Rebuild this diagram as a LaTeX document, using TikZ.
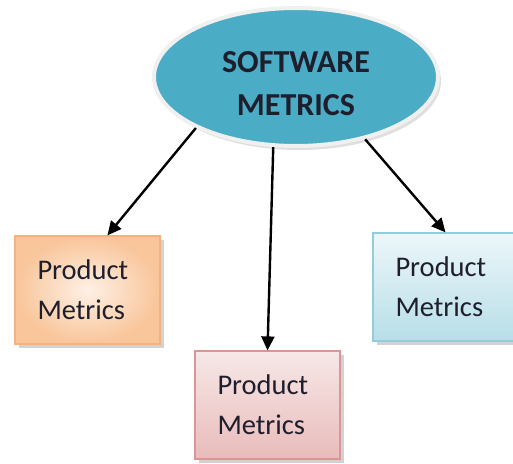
\documentclass[tikz,border=0pt]{standalone}
\usepackage{fontspec}
\setmainfont{Carlito}
\usetikzlibrary{shapes.geometric,shadows,arrows.meta}
\definecolor{teal}{HTML}{4BACC6}
\definecolor{orangeedge}{HTML}{F4B183}
\definecolor{orangefill}{HTML}{F9C59A}
\definecolor{pinkedge}{HTML}{D99694}
\definecolor{pinkfill}{HTML}{E8BCBB}
\definecolor{blueedge}{HTML}{93CDDD}
\definecolor{bluefill}{HTML}{B7DEE8}
\definecolor{inktext}{HTML}{1E1E2C}
\begin{document}
\begin{tikzpicture}[
        x=1pt, y=-1pt,
        metricbox/.style={rectangle, minimum width=145pt, minimum height=108pt,
          line width=1.2pt, align=left, text width=100pt, text=inktext,
          font=\fontsize{28.5}{40}\selectfont,
          drop shadow={shadow xshift=4pt, shadow yshift=-4pt, fill=black!35}},
        link/.style={line width=2.4pt, -{Triangle[length=14pt,width=13pt]}}
      ]
      \useasboundingbox (0,0) rectangle (513,463);
      \node[ellipse, minimum width=284pt, minimum height=138pt, inner sep=0pt,
        fill=teal, draw=white!88!gray, line width=4pt,
        font=\bfseries\fontsize{32}{43}\selectfont, text=inktext,
        drop shadow={shadow xshift=3pt, shadow yshift=-4pt, fill=black!25}]
        (software) at (296,77)
        {\raisebox{-15pt}[0pt][0pt]{\begin{tabular}{@{}c@{}}SOFTWARE\\METRICS\end{tabular}}};
      \node[metricbox, draw=orangeedge, shading=radial,
        inner color=orangefill!25, outer color=orangefill]
        (product1) at (87.5,290) {Product\\Metrics};
      \node[metricbox, draw=pinkedge, top color=pinkfill!35, bottom color=pinkfill]
        (product2) at (267.5,405) {Product\\Metrics};
      \node[metricbox, draw=blueedge, top color=bluefill!25, bottom color=bluefill]
        (product3) at (445.5,287) {Product\\Metrics};
      \draw[link] (software.207) -- (product1.70);
      \draw[link] (software.252) -- (product2.north);
      \draw[link] (software.318) -- (product3.north);
\end{tikzpicture}
\end{document}
